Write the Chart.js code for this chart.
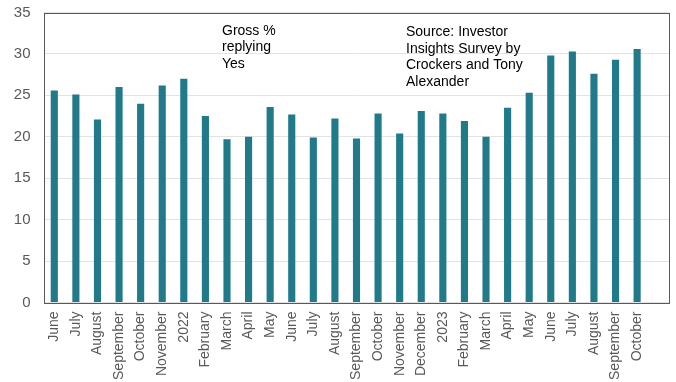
<!DOCTYPE html>
<html>
<head>
<meta charset="utf-8">
<script src="https://cdn.jsdelivr.net/npm/chart.js@4/dist/chart.umd.min.js"></script>
<style>
  html, body { margin: 0; padding: 0; background: #ffffff; }
  #wrap { width: 676px; height: 382px; }
</style>
</head>
<body>
<div id="wrap"><canvas id="chart" width="676" height="382"></canvas></div>
<script>
// Survey months (June 2021 – October 2023); trailing blank slot keeps the right margin
const months = [
  'June', 'July', 'August', 'September', 'October', 'November', '2022',
  'February', 'March', 'April', 'May', 'June', 'July', 'August', 'September',
  'October', 'November', 'December', '2023', 'February', 'March', 'April',
  'May', 'June', 'July', 'August', 'September', 'October', ''
];

// Gross % of investors replying "Yes"
const grossYes = [
  25.6, 25.1, 22.1, 26.0, 24.0, 26.2, 27.0,
  22.5, 19.7, 20.0, 23.6, 22.7, 19.9, 22.2, 19.8,
  22.8, 20.4, 23.1, 22.8, 21.9, 20.0, 23.5,
  25.3, 29.8, 30.3, 27.6, 29.3, 30.6, null
];

const yTicks = { min: 0, max: 35, step: 5 };

const seriesLabel = ['Gross %', 'replying', 'Yes'];
const sourceNote = ['Source: Investor', 'Insights Survey by', 'Crockers and Tony', 'Alexander'];

// Draws the frame around the plot and the two text notes
const framePlugin = {
  id: 'frameAndNotes',
  afterDatasetsDraw(chart) {
    const { ctx, chartArea: a } = chart;
    ctx.save();
    ctx.strokeStyle = '#595959';
    ctx.lineWidth = 1;
    ctx.strokeRect(Math.round(a.left) + 0.5, Math.round(a.top) + 0.5,
                   Math.round(a.right - a.left) - 1, Math.round(a.bottom - a.top));
    ctx.fillStyle = '#000000';
    ctx.font = '14px "Liberation Sans", Arial, sans-serif';
    ctx.textBaseline = 'top';
    seriesLabel.forEach((t, i) => ctx.fillText(t, 222, 24 + i * 16.5));
    sourceNote.forEach((t, i) => ctx.fillText(t, 406, 25 + i * 16.7));
    ctx.restore();
  }
};

// Fixed axis sizes; edge padding comes from layout.padding only
function noEdgePadding(scale) {
  scale.paddingTop = 0;
  scale.paddingBottom = 0;
  scale.paddingLeft = 0;
  scale.paddingRight = 0;
}

new Chart(document.getElementById('chart'), {
  type: 'bar',
  data: {
    labels: months,
    datasets: [{
      data: grossYes,
      backgroundColor: '#217A8A',
      borderWidth: 0,
      barPercentage: 0.33,
      categoryPercentage: 1.0
    }]
  },
  options: {
    responsive: false,
    animation: false,
    devicePixelRatio: 1,
    layout: { padding: { top: 12.5, right: 6.5, left: 0, bottom: 0 } },
    plugins: { legend: { display: false }, tooltip: { enabled: false } },
    scales: {
      x: {
        grid: { display: false, drawTicks: false },
        border: { display: false },
        ticks: {
          color: '#595959',
          font: { family: '"Liberation Sans", Arial, sans-serif', size: 14 },
          minRotation: 90, maxRotation: 90,
          autoSkip: false,
          padding: 9
        },
        afterFit(scale) { scale.height = 79.5; noEdgePadding(scale); }
      },
      y: {
        min: yTicks.min,
        max: yTicks.max,
        grid: { color: '#e3e3e3', lineWidth: 1, drawTicks: false },
        border: { display: false },
        ticks: {
          stepSize: yTicks.step,
          color: '#595959',
          font: { family: '"Liberation Sans", Arial, sans-serif', size: 15 },
          padding: 13
        },
        afterFit(scale) { scale.width = 43.5; noEdgePadding(scale); }
      }
    }
  },
  plugins: [framePlugin]
});
</script>
</body>
</html>
